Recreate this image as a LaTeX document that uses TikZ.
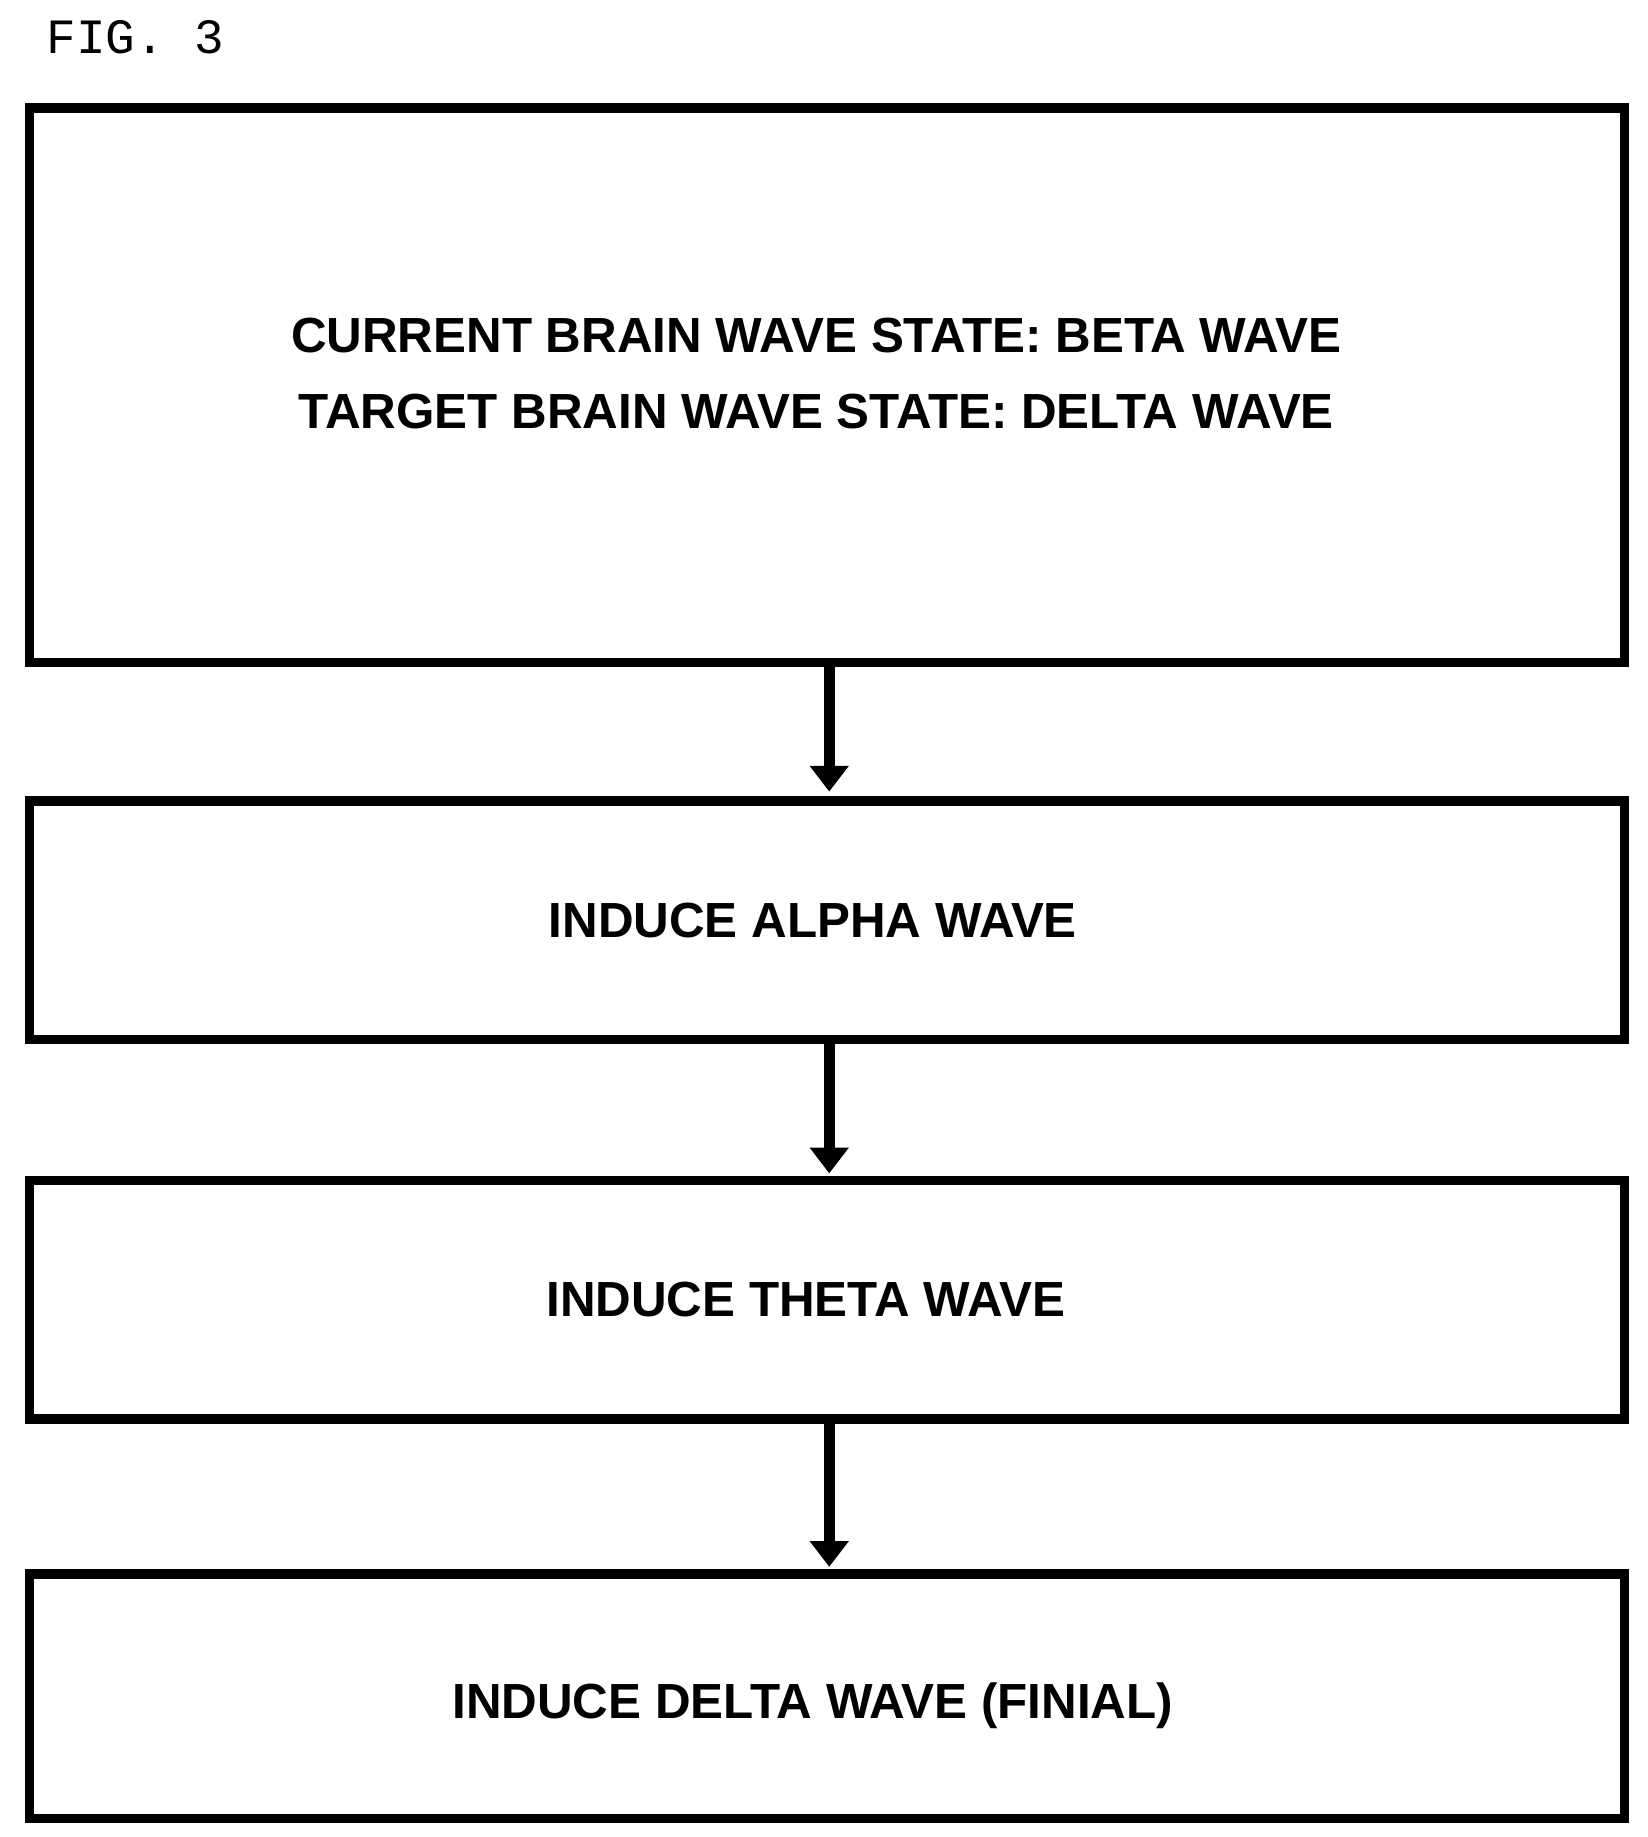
\documentclass[tikz,border=0pt]{standalone}
\usepackage{fontspec}
\setmainfont{Liberation Sans}
\newfontfamily\monof{Liberation Mono}
\usetikzlibrary{arrows.meta}
\begin{document}
\begin{tikzpicture}[x=1pt,y=-1pt,
  box/.style={draw,line width=8pt,inner sep=0pt},
  lbl/.style={font=\fontsize{42}{65}\selectfont\bfseries,align=center},
  arr/.style={line width=9pt,-{Triangle[width=32pt,length=22pt]}}]
\useasboundingbox (0,0) rectangle (1403,1564);
\node[font=\monof\fontsize{42}{42}\selectfont,anchor=west] (fig) at (36,32) {FIG. 3};
\draw[box] (25,92) rectangle (1383,564);
\draw[box] (25,682) rectangle (1383,885);
\draw[box] (25,1005) rectangle (1383,1208);
\draw[box] (25,1340) rectangle (1383,1548);
\node[lbl] (b1) at (695,318) {CURRENT BRAIN WAVE STATE: BETA WAVE\\TARGET BRAIN WAVE STATE: DELTA WAVE};
\node[lbl] (b2) at (692,784) {INDUCE ALPHA WAVE};
\node[lbl] (b3) at (686,1106) {INDUCE THETA WAVE};
\node[lbl] (b4) at (692,1452) {INDUCE DELTA WAVE (FINIAL)};
\coordinate (a1s) at (706,568); \coordinate (a1e) at (706,674);
\coordinate (a2s) at (706,889); \coordinate (a2e) at (706,999);
\coordinate (a3s) at (706,1212); \coordinate (a3e) at (706,1334);
\draw[arr] (a1s) -- (a1e);
\draw[arr] (a2s) -- (a2e);
\draw[arr] (a3s) -- (a3e);
\end{tikzpicture}
\end{document}
